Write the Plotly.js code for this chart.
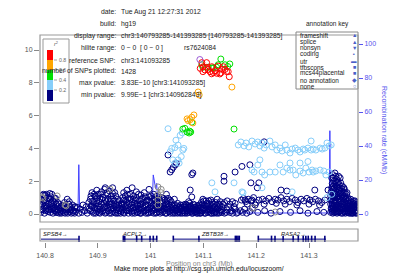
<!DOCTYPE html>
<html><head><meta charset="utf-8">
<script src="https://cdn.plot.ly/plotly-3.0.1.min.js"></script>
<style>html,body{margin:0;padding:0;background:#fff;}#chart{width:399px;height:279px;}</style>
</head><body><div id="chart"></div>
<script>
// ---------- DATA ----------
// each entry: [position (Mb), -log10 p, -log10 p, ...]
const navyGroups = [
[140.792,0.1,0.9],[140.793,0.5],[140.796,0.3,1.15],[140.797,0.7,1.2],[140.799,0.05,0.45],[140.800,0.7,1.15],
[140.803,0.35,1.2,0.8],[140.806,0.15,0.6],[140.807,1.0],[140.809,1.25,0.4],[140.810,0.9,0.1],[140.812,0.3,0.65],
[140.813,0.55,1.2],[140.815,0.05,0.8],[140.816,0.35],[140.818,0.4,0.95],[140.819,0.2],[140.821,0.6,0.1],
[140.823,0.1,0.45],[140.825,0.25],[140.827,0.6,0.05],[140.829,0.35],[140.831,0.05,0.5],[140.833,0.2],
[140.835,0.5,0.1],[140.836,0.3],[140.838,0.05,0.55],[140.840,0.25],[140.842,0.9,0.4],[140.843,0.05],
[140.845,0.3,0.6],[140.847,0.15],[140.848,0.45],[140.850,0.05,0.3],[140.852,0.55],[140.854,0.2],[140.856,0.05,0.4],
[140.858,0.15],[140.861,0.4],[140.864,0.05],[140.867,0.3],[140.870,0.1],[140.872,0.55],[140.875,0.2],
[140.878,0.45],[140.880,0.05],[140.883,0.3,0.7],
[140.886,0.2,0.9],[140.889,0.5,1.3],[140.892,0.05,0.7],[140.895,0.35,1.1],[140.898,0.15,0.8,1.45],
[140.901,0.5,1.2],[140.904,0.05,0.3,0.95],[140.907,0.6,1.35],[140.910,0.2,1.0],[140.913,0.45,1.5],
[140.914,1.6],[140.916,0.1,0.75],[140.919,0.35,1.2],[140.922,0.05,0.6,1.4],[140.925,0.3,0.9],
[140.928,0.15,1.25,1.6],[140.931,0.5,0.8],[140.934,0.05,1.1],[140.937,0.4,0.7],[140.940,0.2,0.55],
[140.943,0.05,0.35],[140.946,0.6,0.25],[140.949,0.1,0.85,1.3],[140.952,0.45,1.1],[140.955,0.2,0.7,1.45],
[140.958,0.05,0.95],[140.961,0.3,1.2],[140.964,0.55,0.15],[140.965,1.6],[140.967,0.4,0.9],[140.970,0.05,0.65],
[140.973,0.25,1.0,1.35],[140.976,0.5,0.1],[140.979,0.3,0.8],[140.982,0.05,0.6,1.15],[140.985,0.4,0.95],
[140.988,0.2,1.3],[140.991,0.55,0.05],[140.994,0.3,0.85],[140.997,0.1,1.05,1.5],[141.000,0.45,0.7],
[141.003,0.2,0.95],[141.006,0.05,0.6,1.2],
[141.009,0.3,0.8],[141.012,0.1,0.55,1.1],[141.015,0.4,0.9],[141.018,0.05,0.7],[141.021,0.25,1.0],
[141.024,0.5,0.15],[141.027,0.35,0.85],[141.030,0.05,0.6,1.2],[141.033,0.3,0.95,3.6],[141.036,0.15,0.5],
[141.037,2.56],[141.039,0.4,0.75],[141.040,2.7],[141.042,0.05,0.25],[141.043,2.85],[141.045,0.55,0.9],
[141.047,3.0],[141.048,0.2,0.35],[141.049,3.1],[141.051,0.05,0.65],[141.054,0.4,0.15],[141.057,0.3,0.55],
[141.060,0.05,0.2],[141.063,0.45,0.1],[141.066,0.3,0.6],[141.069,0.05,0.2],[141.072,0.4,0.75],
[141.075,0.15,0.5,1.46],[141.078,0.05,0.3,1.04,2.4],[141.080,2.5],[141.081,0.6,0.2],[141.084,0.1,0.4],
[141.087,0.3,0.05],[141.090,0.5,0.2],[141.093,0.05,0.35],
[141.096,0.1,0.7],[141.099,0.35,0.9],[141.102,0.05,0.55],[141.105,0.25,0.8],[141.108,0.1,0.45],
[141.111,0.6,0.3],[141.114,0.05,0.85],[141.117,0.2,0.5],[141.120,0.4,0.05],[141.123,0.7,0.15],
[141.126,0.3,0.9],[141.129,0.05,0.6],[141.132,0.2,0.75],[141.135,0.45,0.1],[141.139,2.0,2.3],
[141.140,0.05,0.7],[141.145,0.25,0.8],[141.150,0.1,0.6],[141.155,0.05,0.75],[141.160,0.3,0.65,2.56],
[141.165,0.1],[141.173,2.9],[141.188,3.0],[141.190,1.9],[141.202,1.6],[141.205,1.9],[141.215,4.4],
[141.247,1.46],[141.258,1.4],[141.311,1.46],[141.336,1.46],
[141.170,0.2],[141.172,0.85],[141.174,0.1],[141.176,0.95],[141.178,0.3],[141.179,0.85],[141.180,0.75],
[141.182,0.05],[141.183,0.6],[141.185,0.9],[141.188,0.15],[141.190,0.8],[141.192,0.85],[141.193,0.35],
[141.195,1.0],[141.198,0.55],[141.200,0.7],[141.203,0.1],[141.205,0.85],[141.212,0.9],[141.215,0.6],
[141.216,0.2],[141.218,0.8],[141.224,0.95],[141.228,0.05],[141.230,0.75],[141.236,0.9],[141.238,0.65],
[141.241,0.85],[141.245,0.15],[141.247,1.0],[141.252,0.8],[141.255,0.6],[141.258,0.9],[141.263,0.75],
[141.265,0.1],[141.268,0.95],[141.274,0.85],[141.277,0.55],[141.279,0.7],[141.283,0.2],[141.285,0.9],
[141.290,0.8],[141.296,0.95],[141.298,0.05],[141.300,0.6],[141.302,0.85],[141.307,0.75],[141.312,0.9],
[141.315,0.15],[141.318,0.8],[141.320,0.55],[141.324,0.7],[141.328,0.1],[141.330,0.85],
[141.341,0.1,0.6,1.1],[141.343,0.3,0.9,1.6,2.2],[141.345,0.05,0.5,1.3,2.4],[141.347,0.25,0.8,1.5,2.0],
[141.349,0.1,0.65,1.2,1.8,2.5],[141.351,0.4,1.0,1.7,2.3],[141.353,0.05,0.55,1.35,2.1],[141.355,0.3,0.9,1.55,1.95],
[141.357,0.15,0.7,1.25,1.8],[141.359,0.45,1.05,1.6,2.2],[141.361,0.05,0.6,1.4],[141.363,0.3,0.95,1.7],
[141.365,0.15,0.75,1.3],[141.367,0.5,1.1,1.5],[141.369,0.05,0.35,0.9],[141.371,0.6,1.2],[141.373,0.2,0.8,1.0],
[141.375,0.45,0.1],[141.377,0.65,0.3],[141.379,0.05,0.9],[141.381,0.4,0.2],[141.383,0.7,0.05],
[141.385,0.3,0.55],[141.387,0.1,0.8],[141.389,0.4,0.2],[141.391,0.05,0.6]
];
// further low-significance SNPs filling the dense band near the baseline
const navyDense = [
[140.7945,0.6,0.25],[140.7985,0.85],[140.8015,0.2,0.5],[140.8045,0.95],[140.8075,0.25],[140.8115,1.05],[140.8145,0.45],
[140.8175,0.7],[140.820,0.3,0.95],[140.824,0.7],[140.828,0.15],[140.832,0.4],[140.837,0.7],[140.841,0.15],[140.846,0.75],
[140.849,0.25],[140.853,0.1],[140.857,0.45],
[140.887,0.5,1.1],[140.890,0.15,0.75],[140.893,0.4,1.2],[140.896,0.6,0.05],[140.899,0.3,1.0],[140.902,0.1,0.75],
[140.905,0.45,1.2],[140.908,0.15,0.9],[140.911,0.4,0.65],[140.914,0.05,0.85],[140.917,0.5,1.3],[140.920,0.2,0.9],
[140.923,0.45,0.75],[140.926,0.05,0.6,1.1],[140.929,0.35,0.9],[140.932,0.1,1.3],[140.935,0.55,0.25],[140.938,0.05,0.9],
[140.941,0.35,0.8],[140.944,0.15,0.6],[140.947,0.4,1.0],[140.950,0.05,0.6],[140.953,0.25,0.85],[140.956,0.5,1.2],
[140.959,0.2,0.65],[140.962,0.45,0.9],[140.965,0.05,0.7],[140.968,0.2,1.1],[140.971,0.45,0.85],[140.974,0.1,0.6],
[140.977,0.35,1.2],[140.980,0.05,0.55],[140.983,0.3,0.9],[140.986,0.15,0.7],[140.989,0.45,1.05],[140.992,0.25,0.8],
[140.995,0.05,0.55],[140.998,0.35,0.8],[141.001,0.1,1.1],[141.004,0.5,0.35],[141.007,0.25,0.9],
[141.010,0.05,0.6],[141.013,0.35,0.75],[141.016,0.15,1.0],[141.019,0.45,0.3],[141.022,0.1,0.7],[141.025,0.3,0.95],
[141.028,0.05,0.55],[141.031,0.4,0.8],[141.034,0.15,0.6],[141.037,0.05,0.85],[141.040,0.3,0.55],[141.043,0.15,0.45],
[141.046,0.05,0.35],[141.050,0.5,0.25],[141.053,0.1,0.45],[141.056,0.05,0.3],[141.059,0.4],[141.062,0.2,0.55],
[141.065,0.05,0.4],[141.068,0.3,0.55],[141.071,0.1,0.5],[141.074,0.3,0.65],[141.077,0.15,0.45],[141.080,0.05,0.35],
[141.083,0.25,0.55],[141.086,0.15,0.45],[141.089,0.05,0.35],[141.092,0.25,0.55],
[141.095,0.4,0.05],[141.098,0.2,0.6],[141.101,0.35,0.8],[141.104,0.05,0.5],[141.107,0.3,0.65],[141.110,0.15,0.8],
[141.113,0.4,0.25],[141.116,0.05,0.7],[141.119,0.3,0.6],[141.122,0.1,0.45],[141.125,0.55,0.05],[141.128,0.35],
[141.131,0.1,0.5],[141.134,0.25],[141.137,0.6],[141.143,0.1],[141.148,0.4],[141.153,0.2],[141.158,0.45],[141.163,0.05],
[141.342,0.35,0.85,1.35],[141.344,0.15,0.6,1.15,1.85],[141.346,0.4,1.0,1.7,2.2],[141.348,0.1,0.55,1.05,1.6],
[141.350,0.3,0.85,1.45,2.0],[141.352,0.15,0.7,1.2,1.9],[141.354,0.45,1.05,1.65],[141.356,0.1,0.5,1.1,2.3],
[141.358,0.35,0.95,1.45],[141.360,0.2,0.8,1.25,1.9],[141.362,0.4,1.1,1.55],[141.364,0.05,0.55,1.15],
[141.366,0.3,0.95,1.6],[141.368,0.15,0.7,1.3],[141.370,0.45,0.95],[141.372,0.1,0.5,1.3],[141.374,0.3,0.65],
[141.376,0.05,0.85],[141.378,0.45,0.15],[141.380,0.25,0.7],[141.382,0.05,0.5],[141.384,0.35,0.8],[141.386,0.15,0.6],
[141.388,0.5,0.05],[141.390,0.25,0.7],[141.392,0.4]
];
const greyGroups = [
[140.794,1.04],[140.796,0.97],[140.823,1.1],[140.838,0.55],[140.840,0.5],[140.923,1.52],
[141.014,1.65,1.16,0.85,0.55],[141.020,1.5,1.3],[141.194,0.37],[141.236,0.12]
];
const lightBlueGroups = [
[141.033,5.2],[141.037,3.8],[141.040,4.0],[141.042,3.3],[141.046,4.05,3.1],[141.048,4.5],[141.052,4.2,3.3],
[141.054,3.1],[141.056,4.8],[141.058,3.5],[141.060,4.95],[141.061,3.9],[141.063,4.0],
[141.116,1.9],[141.122,1.35],[141.158,1.9],[141.173,1.35],[141.175,1.3],[141.207,3.3],[141.211,1.6],
[141.264,2.68],[141.268,1.35],[141.283,3.11],[141.298,3.2],[141.304,4.45],[141.308,2.56],[141.334,1.0],[141.343,1.2],
[141.166,4.21],[141.171,4.39],[141.177,4.15],[141.181,4.33],[141.186,4.09],[141.192,4.45],[141.198,4.27],
[141.203,4.39],[141.207,4.15],[141.211,4.33],[141.215,4.02],[141.219,4.21],[141.226,4.45],[141.230,4.09],
[141.236,4.21],[141.239,3.90],[141.245,4.02],[141.249,3.84],[141.255,4.21],[141.258,3.90],[141.264,3.72],
[141.268,3.96],[141.274,4.02],[141.279,3.90],[141.283,3.78],[141.289,3.96],[141.292,3.90],[141.298,4.02],
[141.304,3.90],[141.308,3.96],[141.313,3.90],[141.321,4.02],[141.325,3.96],[141.330,4.02],[141.334,4.33],
[141.338,4.15],[141.342,4.21],
[141.192,2.68],[141.196,2.56],[141.203,2.99],[141.211,2.56],[141.216,2.38],[141.226,2.56],[141.236,2.56],
[141.245,2.99],[141.251,2.56],[141.258,2.80],[141.264,3.11],[141.270,2.68],[141.275,2.38],[141.283,2.62],
[141.289,2.50],[141.294,2.80],[141.300,2.56],[141.306,2.68],[141.313,2.62],[141.321,2.68],[141.328,2.62],
[141.332,2.38],[141.338,2.56]
];
const greenGroups = [
[141.133,9.45],[141.150,9.15],[141.146,9.0],[141.141,9.1],[141.128,9.1],[141.125,8.95],[141.097,9.1],
[141.099,8.95],[141.116,8.9],[141.119,8.92],[141.109,8.95],
[141.061,5.18],[141.065,5.22],[141.069,5.0],[141.073,4.94],[141.076,5.0],[141.074,5.05],[141.078,5.6],
[141.158,5.18]
];
const orangeGroups = [
[141.154,7.74],[141.090,7.44],[141.092,7.26],
[141.069,5.8],[141.071,5.7],[141.075,5.75],[141.078,5.9],[141.082,6.04],[141.080,5.55]
];
const redGroups = [
[141.097,9.23],[141.106,9.23],[141.100,8.98],[141.094,8.88],[141.103,8.78],[141.109,8.82],[141.1125,8.68],
[141.119,8.62],[141.122,8.74],[141.125,8.58],[141.131,8.54],[141.1346,8.82],[141.138,8.98],[141.141,8.82],
[141.144,8.68],[141.147,8.68],[141.149,8.37],[141.128,9.02],[141.116,8.98],[141.106,8.94],[141.099,8.68],
[141.1155,8.55],[141.133,8.6]
];
const refSnp = [[141.093285, 9.42]];

const recombPos  = [140.7933,140.8600,140.8625,140.8640,140.8655,140.8700,141.0000,141.0030,141.0050,141.0070,141.0095,141.0115,141.0130,141.0150,141.0200,141.0280,141.0320,141.3385,141.3395,141.3405,141.3928];
const recombRate = [0.8,0.8,3,29,3,0.6,0.6,4,23,19,15,18,9,6,6,3,0.6,0.6,49,0.4,0.4];

const geneNames  = ['SPSB4','ACPL2','ZBTB38','RASA2'];
const geneStart  = [140.7924,140.9477,141.0430,141.2040];
const geneEnd    = [140.8644,141.0121,141.1680,141.3320];
const geneLabelX = [140.8190,140.9686,141.1220,141.2697];
const geneExons  = [
  [140.8644],
  [140.9483,140.9510,140.9736,140.9831,140.9989,141.0051,141.0116],
  [141.0430,141.0915,141.1605,141.1630,141.1655,141.1680],
  [141.2040,141.2290,141.2356,141.2510,141.2700,141.2797,141.2890,141.2940,141.2986,141.3050,141.3115,141.3300]
];

const xTickVals = [140.8,140.9,141.0,141.1,141.2,141.3];
const xTickText = ['140.8','140.9','141','141.1','141.2','141.3'];
const yTickVals = [0,2,4,6,8,10];
const recTickVals = [0,20,40,60,80,100];

const infoLabels = ['date:','build:','display range:','hilite range:','reference SNP:','number of SNPs plotted:','max pvalue:','min pvalue:'];
const infoValues = ['Tue Aug 21 12:27:31 2012','hg19','chr3:140793285-141393285 [140793285-141393285]','0 − 0  [ 0 − 0 ]','chr3:141093285','1428','3.83E−10 [chr3:141093285]','9.99E−1 [chr3:140962843]'];
const annotKeyLabels = ['frameshift','splice','nonsyn','coding','utr','tfbscons','mcs44placental','no annotation','none'];
const annotKeySymbols = ['▲','▲','▼','▪','▬','■','■','◆','○'];
const r2Labels = ['0.8','0.6','0.4','0.2'];
const r2Colors = ['#FF0000','#FFA500','#00E000','#87CEFA','#000080'];

// ---------- BUILD ----------
const F = 'Liberation Sans, Arial, sans-serif';
function expand(groups){const xs=[],ys=[];groups.forEach(g=>{for(let i=1;i<g.length;i++){xs.push(g[0]);ys.push(g[i]);}});return {x:xs,y:ys};}
function pts(groups,color,w){const e=expand(groups);return {x:e.x,y:e.y,xaxis:'x',yaxis:'y3',type:'scatter',mode:'markers',
  marker:{symbol:'circle-open',size:6,color:color,line:{color:color,width:w||1}},hoverinfo:'skip'};}

const traces = [];
traces.push({x:recombPos,y:recombRate,xaxis:'x',yaxis:'y',type:'scatter',mode:'lines',line:{color:'#4040ff',width:1},hoverinfo:'skip'});
geneNames.forEach((g,i)=>{
  traces.push({x:[geneStart[i],geneEnd[i]],y:[0.22,0.22],xaxis:'x',yaxis:'y2',type:'scatter',mode:'lines',line:{color:'#000080',width:1},hoverinfo:'skip'});
  traces.push({x:geneExons[i],y:geneExons[i].map(()=>0.22),xaxis:'x',yaxis:'y2',type:'scatter',mode:'markers',
    marker:{symbol:'line-ns-open',size:5,color:'#000080',line:{color:'#000080',width:1.6}},hoverinfo:'skip'});
});
traces.push(pts(navyGroups,'#000080'));
traces.push(pts(navyDense,'#000080'));
traces.push(pts(greyGroups,'#8c8c8c'));
traces.push(pts(lightBlueGroups,'#87CEFA'));
traces.push(pts(greenGroups,'#00E000'));
traces.push(pts(orangeGroups,'#FFA500'));
traces.push(pts(redGroups,'#FF0000'));
traces.push(pts(refSnp,'#9b59d6'));

const PX=x=>(x-40)/318, PY=y=>(242-y)/207;
const ann=[], shapes=[];
function txt(t,x,y,size,color,xa,extra){ann.push(Object.assign({text:t,xref:'paper',yref:'paper',x:PX(x),y:PY(y),xanchor:xa||'center',yanchor:'middle',
  showarrow:false,font:{family:F,size:size,color:color},borderpad:0},extra||{}));}

const rowY=[12,24,36,48,60,71,83,95];
infoLabels.forEach((l,i)=>{txt(l,116.5,rowY[i],6.8,'#222','right');txt(infoValues[i],119.5,rowY[i],6.8,'#222','left');});
txt('rs7624084',183,48,6.8,'#222','left');

// annotation key
txt('annotation key',327,24,6.5,'#222');
const keyY=[35,42,48,54,61,67,73,80,86];
annotKeyLabels.forEach((l,i)=>{txt(l,298.5,keyY[i],6.4,'#222','left');txt(annotKeySymbols[i],354,keyY[i],5.5,'#4a5fc8');});
shapes.push({type:'rect',xref:'paper',yref:'paper',x0:PX(296),x1:PX(358),y0:PY(89),y1:PY(32),line:{color:'#888',width:1},layer:'above'});

// r2 legend
shapes.push({type:'rect',xref:'paper',yref:'paper',x0:PX(43),x1:PX(69),y0:PY(103),y1:PY(39),line:{color:'#999',width:1},fillcolor:'rgba(255,255,255,1)',layer:'above'});
const blk=[50,60,70,80,90,101];
r2Colors.forEach((c,i)=>{shapes.push({type:'rect',xref:'paper',yref:'paper',x0:PX(47),x1:PX(53),y0:PY(blk[i+1]),y1:PY(blk[i]),line:{width:0},fillcolor:c,layer:'above'});});
r2Labels.forEach((l,i)=>{shapes.push({type:'line',xref:'paper',yref:'paper',x0:PX(54),x1:PX(57),y0:PY(blk[i+1]),y1:PY(blk[i+1]),line:{color:'#888',width:0.8},layer:'above'});
  txt(l,58,blk[i+1],5.2,'#666','left');});
txt('<i>r</i><sup>2</sup>',56,44,5.5,'#555');

// frames
shapes.push({type:'rect',xref:'paper',yref:'paper',x0:0,x1:1,y0:PY(222),y1:1,line:{color:'#9a9a9a',width:1.2}});
shapes.push({type:'rect',xref:'paper',yref:'paper',x0:0,x1:1,y0:PY(241),y1:PY(229),line:{color:'#9a9a9a',width:1.2}});

// gene labels
geneNames.forEach((g,i)=>{ann.push({text:'<i>'+g+'</i>→',xref:'x',yref:'paper',x:geneLabelX[i],y:PY(234),xanchor:'center',yanchor:'middle',showarrow:false,
  font:{family:F,size:5.8,color:'#222'},borderpad:0});});

txt('Position on chr3 (Mb)',199,264,7,'#888');
txt('Make more plots at http://csg.sph.umich.edu/locuszoom/',199,269,6.8,'#111');
ann.push({text:'Recombination rate (cM/Mb)',xref:'paper',yref:'paper',x:PX(384),y:PY(130),textangle:90,showarrow:false,
  xanchor:'center',yanchor:'middle',font:{family:F,size:7,color:'#5555ee'}});

const layout = {
  width:399,height:279,margin:{l:40,r:41,t:35,b:37},paper_bgcolor:'#fff',plot_bgcolor:'#fff',showlegend:false,hovermode:false,
  font:{family:F},
  xaxis:{domain:[0,1],range:[140.7905,141.3928],anchor:'y2',showgrid:false,zeroline:false,showline:false,ticks:'outside',ticklen:5,
    tickcolor:'#888',tickwidth:1,tickmode:'array',tickvals:xTickVals,ticktext:xTickText,tickfont:{family:F,size:7,color:'#555'},ticklabelstandoff:2},
  yaxis:{domain:[PY(222),1],range:[-4.7,105.3],side:'right',anchor:'x',tickmode:'array',tickvals:recTickVals,ticks:'outside',ticklen:4,
    tickcolor:'#5555ee',tickfont:{family:F,size:7,color:'#5555ee'},showgrid:false,zeroline:false,showline:false},
  yaxis3:{overlaying:'y',side:'left',anchor:'x',range:[-0.488,10.915],tickmode:'array',tickvals:yTickVals,ticks:'outside',ticklen:5,
    tickcolor:'#888',tickfont:{family:F,size:7,color:'#555'},showgrid:false,zeroline:false,showline:false},
  yaxis2:{domain:[0,PY(229)],range:[0,1],visible:false,fixedrange:true},
  annotations:ann,shapes:shapes
};
Plotly.newPlot('chart',traces,layout,{staticPlot:true,displayModeBar:false});
</script></body></html>
